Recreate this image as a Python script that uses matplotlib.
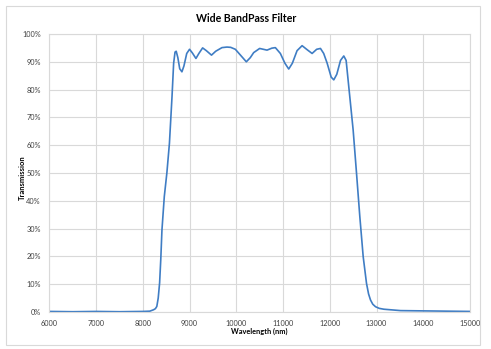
import matplotlib
matplotlib.use("Agg")
import matplotlib.pyplot as plt
from matplotlib.patches import Rectangle
from matplotlib.ticker import PercentFormatter

# wavelength (nm) and transmission (%)
wavelength = [6000, 6500, 7000, 7500, 8000, 8150, 8230, 8270, 8300, 8330,
              8360, 8385, 8410, 8460, 8515, 8570, 8625, 8660, 8690, 8715,
              8750, 8790, 8837, 8880, 8940, 9000, 9060, 9137, 9200, 9280,
              9360, 9470, 9560, 9694, 9800, 9880, 9980, 10100, 10215, 10300,
              10372, 10500, 10658, 10760, 10836, 10943, 11040, 11122, 11200, 11300,
              11408, 11520, 11622, 11720, 11801, 11870, 11944, 12030, 12086, 12150,
              12230, 12300, 12350, 12407, 12500, 12572, 12643, 12715, 12786, 12830,
              12872, 12920, 12979, 13060, 13157, 13515, 14000, 14500, 15000]
transmission = [0.2, 0.1, 0.2, 0.1, 0.2, 0.3, 0.8, 1.2, 2.0, 5.0,
                10.5, 19.0, 29.5, 41.5, 50.0, 60.7, 77.4, 89.5, 93.5, 93.8,
                91.5, 87.5, 86.4, 88.5, 93.0, 94.5, 93.2, 91.2, 93.0, 95.0,
                94.0, 92.4, 93.8, 95.1, 95.3, 95.2, 94.5, 92.2, 90.0, 91.5,
                93.3, 94.8, 94.2, 94.9, 95.1, 93.0, 89.5, 87.4, 89.5, 94.0,
                95.8, 94.3, 93.0, 94.5, 94.8, 93.0, 89.5, 84.5, 83.5, 85.5,
                90.5, 92.1, 90.5, 81.0, 65.5, 50.0, 34.3, 19.9, 10.3, 6.5,
                4.3, 2.8, 1.9, 1.3, 1.0, 0.5, 0.4, 0.3, 0.2]

x_ticks = list(range(6000, 15001, 1000))
y_ticks = list(range(0, 101, 10))

plt.rcParams['font.family'] = ['Lato', 'DejaVu Sans']

fig = plt.figure(figsize=(4.91, 3.49), dpi=100)
fig.patches.append(Rectangle((6 / 491, 4 / 349), 474 / 491, 339 / 349,
                             transform=fig.transFigure, fill=False,
                             edgecolor='#d9d9d9', linewidth=0.8))
ax = fig.add_axes([49.3 / 491, 1 - 312 / 349, 420.7 / 491, 278 / 349])

ax.plot(wavelength, transmission, color='#3f7dc4', linewidth=1.2)

ax.set_xlim(6000, 15000)
ax.set_ylim(0, 100)
ax.set_xticks(x_ticks)
ax.set_yticks(y_ticks)
ax.yaxis.set_major_formatter(PercentFormatter(decimals=0))
ax.grid(True, color='#d9d9d9', linewidth=0.8)
ax.set_axisbelow(True)
for s in ax.spines.values():
    s.set_color('#d9d9d9')
    s.set_linewidth(0.8)
ax.tick_params(length=0, labelsize=5.3, colors='#404040', pad=6)

fig.text(246 / 491, 1 - 19 / 349, "Wide BandPass Filter", fontsize=7.6,
         fontweight='bold', ha='center', va='center')
fig.text(259 / 491, 1 - 331.5 / 349, "Wavelength (nm)", fontsize=5.3,
         fontweight='bold', ha='center', va='center')
fig.text(22 / 491, 1 - 178 / 349, "Transmission", fontsize=5.5,
         fontweight='bold', ha='center', va='center', rotation=90)

plt.savefig("out.png", dpi=100)
